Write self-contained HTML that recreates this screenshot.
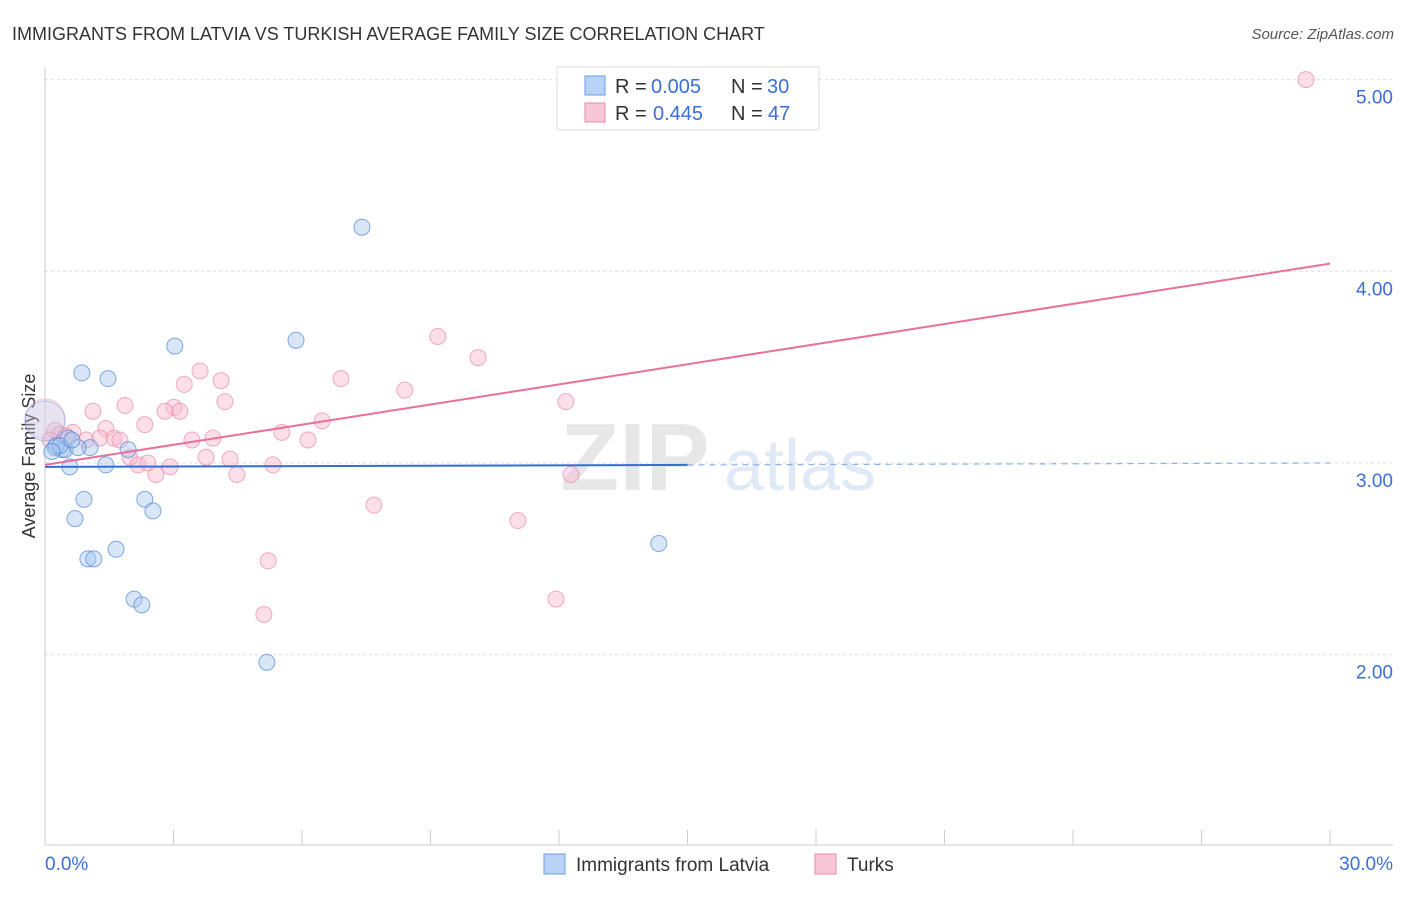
<!DOCTYPE html>
<html><head><meta charset="utf-8"><style>
body{margin:0;background:#fff;font-family:"Liberation Sans",sans-serif}
svg text{font-family:"Liberation Sans",sans-serif}
</style></head><body>
<svg width="1406" height="892" id="chart">
<text x="12" y="40" font-size="18" fill="#333">IMMIGRANTS FROM LATVIA VS TURKISH AVERAGE FAMILY SIZE CORRELATION CHART</text>
<text x="1394" y="39" font-size="15" fill="#555" text-anchor="end" font-style="italic">Source: ZipAtlas.com</text>
<text x="35" y="456" font-size="18" fill="#333" text-anchor="middle" transform="rotate(-90 35 456)">Average Family Size</text>
<g opacity="0.35">
<text x="635" y="490" font-size="96" fill="#bbb" text-anchor="middle" font-family="Liberation Serif" font-weight="bold">ZIP</text>
<text x="800" y="490" font-size="72" fill="#a8c4e8" text-anchor="middle">atlas</text>
</g>
<g id="grid"></g><g id="axes"></g><g id="marks"></g>
<g>
<rect x="557" y="67" width="262" height="63" fill="#fff" stroke="#ddd"/>
<rect x="585" y="76" width="20" height="19" fill="#b8d3f5" stroke="#6a9ee0"/>
<text x="615" y="93" font-size="20" fill="#333">R =</text>
<text x="651" y="93" font-size="20" fill="#3a6fd8">0.005</text>
<text x="731" y="93" font-size="20" fill="#333">N =</text>
<text x="767" y="93" font-size="20" fill="#3a6fd8">30</text>
<rect x="585" y="103" width="20" height="19" fill="#f8c6d6" stroke="#e88aa8"/>
<text x="615" y="120" font-size="20" fill="#333">R =</text>
<text x="653" y="120" font-size="20" fill="#3a6fd8">0.445</text>
<text x="731" y="120" font-size="20" fill="#333">N =</text>
<text x="768" y="120" font-size="20" fill="#3a6fd8">47</text>
</g>
<g>
<rect x="544" y="854" width="21" height="20" fill="#b8d3f5" stroke="#6a9ee0"/>
<text x="576" y="871" font-size="19" fill="#333">Immigrants from Latvia</text>
<rect x="815" y="854" width="21" height="20" fill="#f8c6d6" stroke="#e88aa8"/>
<text x="847" y="871" font-size="19" fill="#333">Turks</text>
</g>
<text x="45" y="870" font-size="19" fill="#3a6fd8">0.0%</text>
<text x="1393" y="870" font-size="19" fill="#3a6fd8" text-anchor="end">30.0%</text>
</svg>
<script>
const yTicks=[2,3,4,5];
const yTickLabels=["2.00","3.00","4.00","5.00"];
const latviaX=[0.23,0.40,0.47,0.58,0.54,0.86,0.91,0.70,1.00,1.14,1.47,1.42,1.66,1.94,2.08,2.26,2.33,2.52,3.03,1.05,0.77,5.86,7.40,5.18,14.33,0.0,0.26,0.35,0.16,0.63];
const latviaY=[3.08,3.07,3.07,2.98,3.13,3.47,2.81,2.71,2.50,2.50,3.44,2.99,2.55,3.07,2.29,2.26,2.81,2.75,3.61,3.08,3.08,3.64,4.23,1.96,2.58,3.22,3.09,3.09,3.06,3.12];
const turksX=[29.44,9.17,10.11,12.16,8.40,6.91,3.62,4.11,4.20,3.25,3.01,3.15,2.80,1.87,1.12,6.47,5.53,6.14,3.92,3.43,2.33,1.42,1.61,0.96,0.65,0.23,0.35,0,1.98,2.17,2.40,2.59,2.92,3.76,4.32,4.48,5.32,7.68,11.04,12.28,11.93,5.21,5.11,1.28,0.49,0.12,1.75];
const turksY=[5.00,3.66,3.55,3.32,3.38,3.44,3.48,3.43,3.32,3.41,3.29,3.27,3.27,3.30,3.27,3.22,3.16,3.12,3.13,3.12,3.20,3.18,3.13,3.12,3.16,3.17,3.15,3.23,3.03,2.99,3.00,2.94,2.98,3.03,3.02,2.94,2.99,2.78,2.70,2.94,2.29,2.49,2.21,3.13,3.14,3.12,3.12];
const latviaTrend=[2.98,3.00];
const turksTrend=[2.99,4.04];
const NS="http://www.w3.org/2000/svg";
const sx=v=>45+v/30*1285;
const sy=v=>463-(v-3)*191.7;
function mk(tag,attrs,parent){const e=document.createElementNS(NS,tag);for(const k in attrs)e.setAttribute(k,attrs[k]);document.getElementById(parent).appendChild(e);return e;}
yTicks.forEach((t,i)=>{
 const l=mk('line',{x1:45,x2:1393,y1:sy(t),y2:sy(t),stroke:'#ddd','stroke-dasharray':'3,3'},'grid');
 
 
 const tx=mk('text',{x:1393,y:sy(t)+24,'font-size':19,fill:'#3a6fd8','text-anchor':'end'},'grid');
 tx.textContent=yTickLabels[i];
 
 
});
let a=mk('line',{x1:45,x2:45,y1:67,y2:845,stroke:'#ccc'},'axes');


a=mk('line',{x1:45,x2:1393,y1:845,y2:845,stroke:'#ccc'},'axes');


for(let i=0;i<=10;i++){const t=mk('line',{x1:sx(i*3),x2:sx(i*3),y1:830,y2:845,stroke:'#ccc'},'axes');
 
 }
function dots(X,Y,fill,stroke,name){X.forEach((x,i)=>{const big=(x===0);
 const c=mk('circle',{cx:sx(x),cy:sy(Y[i]),r:big?20:8,fill:fill,'fill-opacity':big?0.25:0.45,stroke:stroke,'stroke-opacity':big?0.4:0.7,'stroke-width':1},'marks');
 
 });}
dots(turksX,turksY,'#f8b8cc','#e88aa8','turks-point');
dots(latviaX,latviaY,'#a9c8f0','#4f86d8','latvia-point');
const lt=t=>latviaTrend[0]+(latviaTrend[1]-latviaTrend[0])*t/30;
let l=mk('line',{x1:sx(0),y1:sy(lt(0)),x2:sx(15),y2:sy(lt(15)),stroke:'#2f6fd6','stroke-width':2},'marks');


l=mk('line',{x1:sx(15),y1:sy(lt(15)),x2:sx(30),y2:sy(lt(30)),stroke:'#8fb0e8','stroke-width':1.2,'stroke-dasharray':'6,5'},'marks');


l=mk('line',{x1:sx(0),y1:sy(turksTrend[0]),x2:sx(30),y2:sy(turksTrend[1]),stroke:'#e8709a','stroke-width':2},'marks');


</script>
</body></html>
